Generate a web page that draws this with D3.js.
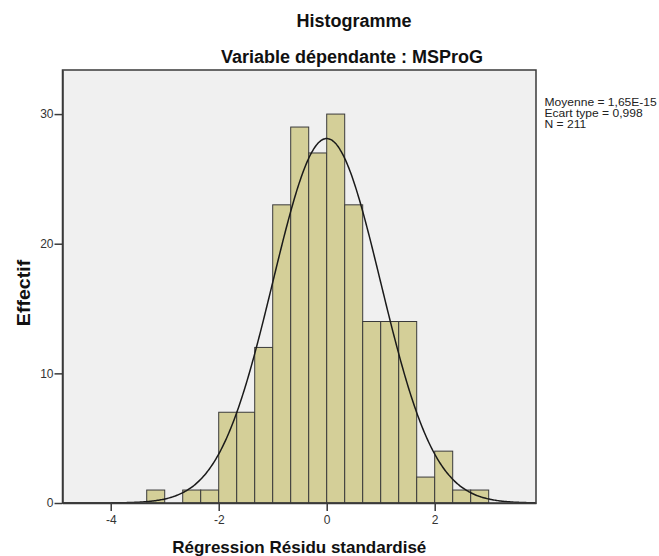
<!DOCTYPE html>
<html>
<head>
<meta charset="utf-8">
<script src="https://cdn.jsdelivr.net/npm/d3@7"></script>
<style>
  html, body { margin: 0; padding: 0; background: #ffffff; }
  svg { display: block; }
  text { font-family: "Liberation Sans", Arial, sans-serif; }
</style>
</head>
<body>
<svg id="chart" width="659" height="556"></svg>
<script>
// ---- data ----
const titleLines = ["Histogramme", "Variable dépendante : MSProG"];
const xLabel = "Régression Résidu standardisé";
const yLabel = "Effectif";
const statsLines = ["Moyenne = 1,65E-15", "Ecart type = 0,998", "N = 211"];
const statMean = 1.65e-15;
const statSD = 0.998;
const statN = 211;
const binWidth = 1 / 3;
const binLower = [-10/3, -8/3, -7/3, -2, -5/3, -4/3, -1, -2/3, -1/3, 0, 1/3, 2/3, 1, 4/3, 5/3, 2, 7/3, 8/3];
const binCounts = [1, 1, 1, 7, 7, 12, 23, 29, 27, 30, 23, 14, 14, 14, 2, 4, 1, 1];
const xTicks = [-4, -2, 0, 2];
const yTicks = [0, 10, 20, 30];
const xDomain = [-4.893, 3.876];
const yDomain = [0, 33.4];

// ---- layout ----
const svg = d3.select("#chart");
const L = 62.5, R = 536, T = 70, B = 503;

const x = d3.scaleLinear().domain(xDomain).range([L, R]);
const y = d3.scaleLinear().domain(yDomain).range([B, T]);

// plot background
svg.append("rect")
  .attr("x", L).attr("y", T).attr("width", R - L).attr("height", B - T)
  .attr("fill", "#f0f0f0");

// bars
const bins = binLower.map((lo, i) => ({ lo, hi: lo + binWidth, n: binCounts[i] }));
svg.append("g").selectAll("rect").data(bins).join("rect")
  .attr("x", d => x(d.lo))
  .attr("y", d => y(d.n))
  .attr("width", d => x(d.hi) - x(d.lo))
  .attr("height", d => y(0) - y(d.n))
  .attr("fill", "#d4cf98")
  .attr("stroke", "#3a3a3a")
  .attr("stroke-width", 1);

// fitted normal curve (from the displayed statistics)
const curvePts = d3.range(xDomain[0], xDomain[1] + 0.001, 0.02).map(v => {
  const z = (v - statMean) / statSD;
  return [v, statN * binWidth * Math.exp(-0.5 * z * z) / (statSD * Math.sqrt(2 * Math.PI))];
});
svg.append("path")
  .datum(curvePts)
  .attr("fill", "none")
  .attr("stroke", "#1a1a1a")
  .attr("stroke-width", 1.5)
  .attr("d", d3.line().x(d => x(d[0])).y(d => y(d[1])).curve(d3.curveBasis));

// frame
svg.append("rect")
  .attr("x", L).attr("y", T).attr("width", R - L).attr("height", B - T)
  .attr("fill", "none").attr("stroke", "#3a3a3a").attr("stroke-width", 1.5);

// axes
const yAxis = svg.append("g").attr("transform", `translate(${L},0)`)
  .call(d3.axisLeft(y).tickValues(yTicks).tickSizeInner(8).tickSizeOuter(0).tickPadding(1).tickFormat(d3.format("d")));
const xAxis = svg.append("g").attr("transform", `translate(0,${B})`)
  .call(d3.axisBottom(x).tickValues(xTicks).tickSizeInner(8).tickSizeOuter(0).tickPadding(4).tickFormat(d => d < 0 ? "-" + Math.abs(d) : String(d)));
[yAxis, xAxis].forEach(g => {
  g.select(".domain").attr("stroke", "#3a3a3a").attr("stroke-width", 1.5);
  g.selectAll(".tick line").attr("stroke", "#3a3a3a").attr("stroke-width", 1.5);
  g.selectAll(".tick text").attr("fill", "#333").style("font-size", "12px")
    .style("font-family", "'Liberation Sans', Arial, sans-serif");
});

// titles
svg.append("text").attr("x", 354).attr("y", 27).attr("text-anchor", "middle")
  .style("font-size", "18px").style("font-weight", "bold").attr("fill", "#111")
  .text(titleLines[0]);
svg.append("text").attr("x", 352).attr("y", 63).attr("text-anchor", "middle")
  .style("font-size", "18px").style("font-weight", "bold").attr("fill", "#111")
  .text(titleLines[1]);

// axis labels
svg.append("text").attr("x", (L + R) / 2).attr("y", 553).attr("text-anchor", "middle")
  .style("font-size", "17px").style("font-weight", "bold").attr("fill", "#111")
  .text(xLabel);
svg.append("text")
  .attr("transform", `translate(30,${293}) rotate(-90) scale(1.12,1)`)
  .attr("text-anchor", "middle")
  .style("font-size", "17.5px").style("font-weight", "bold").attr("fill", "#111")
  .text(yLabel);

// stats box text
svg.append("g").attr("transform", "translate(544.5,0) scale(1.15,1)")
  .selectAll("text").data(statsLines).join("text")
  .attr("x", 0).attr("y", (d, i) => 106.5 + i * 11)
  .style("font-size", "10.5px").attr("fill", "#222")
  .text(d => d);
</script>
</body>
</html>
